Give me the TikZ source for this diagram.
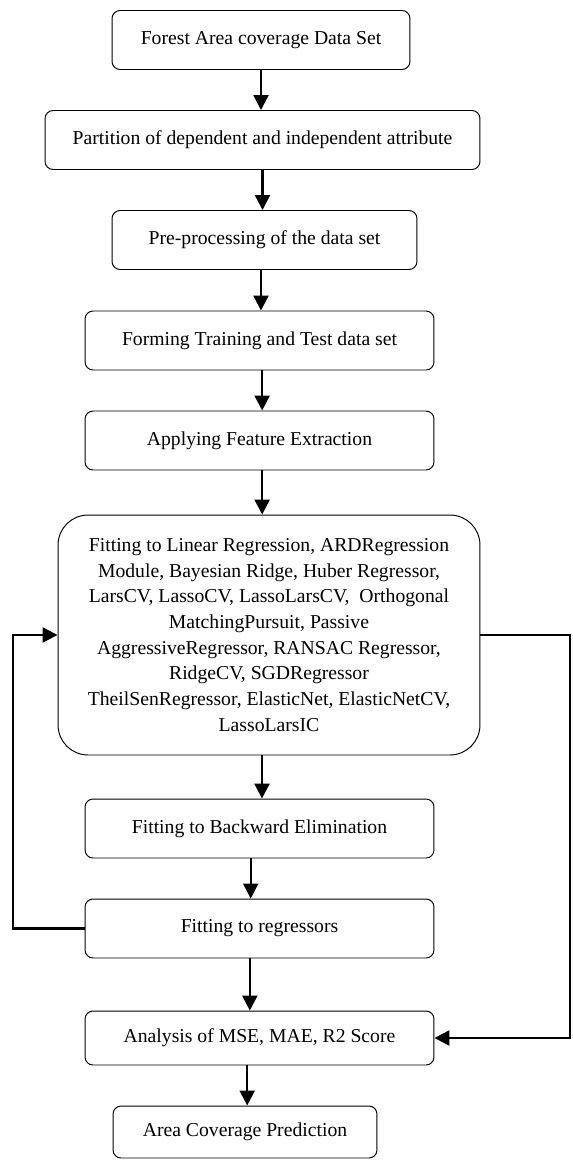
\documentclass[tikz,border=0pt]{standalone}
\usepackage{fontspec}
\setmainfont{Liberation Serif}
\usetikzlibrary{arrows.meta}

\begin{document}
\begin{tikzpicture}[x=0.02cm,y=-0.02cm,
    box/.style={draw, rounded corners=0.16cm, align=center, inner sep=0pt,
        line width=0.55pt, minimum height=1.18cm,
        font=\fontsize{11.2}{14.6}\selectfont},
    flow/.style={-{Triangle[width=8.5pt,length=8.5pt]}, line width=1.3pt}]
\useasboundingbox (0,0) rectangle (572,1160);
    \node[box, minimum width=5.96cm] (data) at (261,40) {Forest Area coverage Data Set};
    \node[box, minimum width=8.7cm] (part) at (262.5,140) {Partition of dependent and independent attribute};
    \node[box, minimum width=6.1cm] (prep) at (264.5,240) {Pre-processing of the data set};
    \node[box, minimum width=6.98cm] (form) at (259.5,340.5) {Forming Training and Test data set};
    \node[box, minimum width=6.98cm] (feat) at (259.5,440.5) {Applying Feature Extraction};
    \node[box, rounded corners=0.6cm, minimum width=8.44cm, minimum height=4.8cm] (fit) at (269,635)
        {Fitting to Linear Regression, ARDRegression\\
         Module, Bayesian Ridge, Huber Regressor,\\
         LarsCV, LassoCV, LassoLarsCV,\ \ Orthogonal\\
         MatchingPursuit, Passive\\
         AggressiveRegressor, RANSAC Regressor,\\
         RidgeCV, SGDRegressor\\
         TheilSenRegressor, ElasticNet, ElasticNetCV,\\
         LassoLarsIC};
    \node[box, minimum width=6.98cm] (bwe) at (259.5,828.5) {Fitting to Backward Elimination};
    \node[box, minimum width=6.98cm] (reg) at (259.5,928.5) {Fitting to regressors};
    \node[box, minimum width=6.98cm, minimum height=1.08cm] (ana) at (259.5,1038) {Analysis of MSE, MAE, R2 Score};
    \node[box, minimum width=5.28cm, minimum height=1.04cm] (pred) at (245,1132) {Area Coverage Prediction};
    % loop-back lines
    \coordinate (lft) at (13,928.5);
    \coordinate (rgt) at (570,635);
    \draw [flow] (data.south) -- (data.south |- part.north);
    \draw [flow] (part.south) -- (part.south |- prep.north);
    \draw [flow] ([xshift=-2pt]prep.south) -- ([xshift=-2pt]prep.south |- form.north);
    \draw [flow] ([xshift=1.5pt]form.south) -- ([xshift=1.5pt]feat.north);
    \draw [flow] ([xshift=1.5pt]feat.south) -- ([xshift=1.5pt]feat.south |- fit.north);
    \draw [flow] ([xshift=-4pt]fit.south) -- ([xshift=-4pt]fit.south |- bwe.north);
    \draw [flow] ([xshift=-5pt]bwe.south) -- ([xshift=-5pt]reg.north);
    \draw [flow] ([xshift=-5.5pt]reg.south) -- ([xshift=-5.5pt]ana.north);
    \draw [flow] ([xshift=-7pt]ana.south) -- ([xshift=-7pt]ana.south |- pred.north);
    \draw [flow] (reg.west) -- (lft) |- (fit.west);
    \draw [flow] (fit.east) -- (rgt) |- (ana.east);
\end{tikzpicture}
\end{document}
